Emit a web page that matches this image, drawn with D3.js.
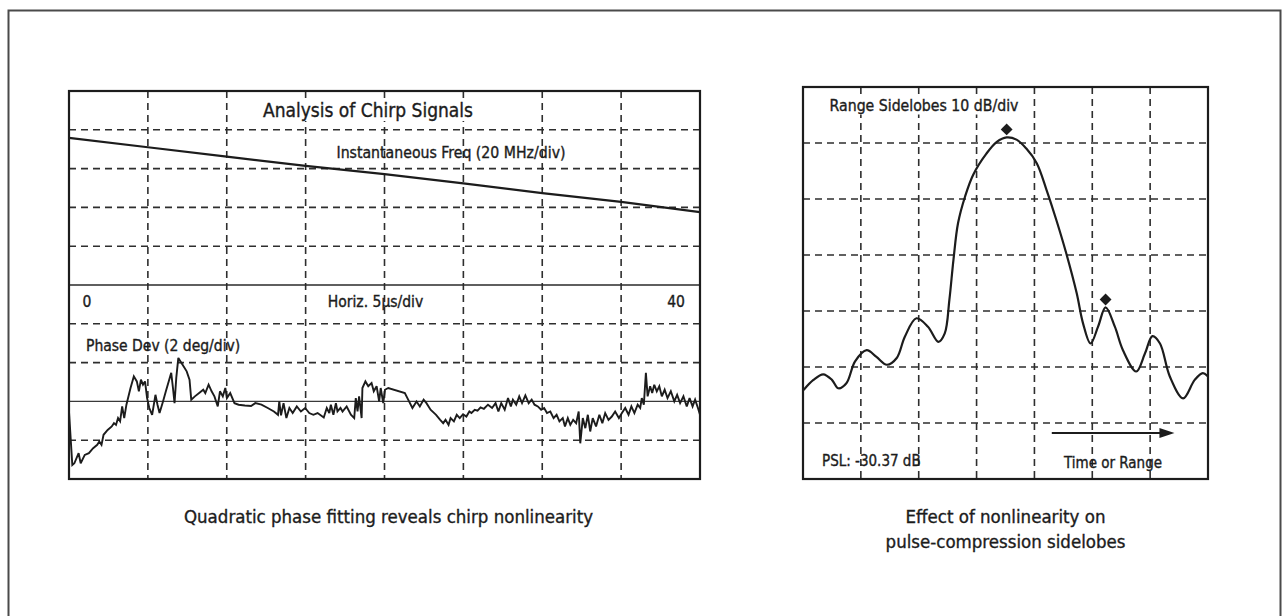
<!DOCTYPE html>
<html>
<head>
<meta charset="utf-8">
<script src="https://cdn.jsdelivr.net/npm/d3@7"></script>
<style>
  html, body { margin: 0; padding: 0; background: #ffffff; }
  svg { display: block; }
  text {
    font-family: "Liberation Sans Narrow", "Arial Narrow", "DejaVu Sans Condensed", "Roboto Condensed", sans-serif;
    font-stretch: condensed;
    fill: #1c1c1c;
    stroke: #1c1c1c;
    stroke-width: 0.35px;
  }
</style>
</head>
<body>
<svg id="chart" width="1288" height="616"></svg>
<script>
// ---- Chirp analysis: instantaneous frequency (MHz, relative) vs time (µs)
const freqTime = [0, 5, 10, 15, 20, 25, 30, 35, 40];
const freqMHz  = [75.8, 71.0, 66.2, 61.4, 57.2, 52.4, 47.4, 42.8, 37.6];

// ---- Phase deviation from quadratic fit (deg) vs time (µs)
const phaseTime = [0,0.21,0.34,0.61,0.74,1.00,1.26,1.53,1.79,1.92,2.06,2.19,2.45,2.71,2.85,2.98,3.11,3.24,3.37,3.50,
  3.64,3.90,4.11,4.30,4.43,4.56,4.69,4.82,4.95,5.09,5.27,5.48,5.61,5.74,5.96,6.14,6.32,6.48,6.59,6.69,
  6.80,6.93,7.19,7.46,7.64,7.75,7.98,8.25,8.51,8.64,8.85,9.04,9.22,9.43,9.57,9.75,9.91,10.01,10.22,10.49,
  10.75,11.15,11.54,11.81,12.20,12.60,12.99,13.25,13.33,13.44,13.60,13.78,13.97,14.18,14.44,14.70,14.97,15.23,15.49,15.76,
  16.15,16.34,16.50,16.60,16.76,16.92,17.02,17.21,17.34,17.60,17.87,18.08,18.18,18.29,18.39,18.55,18.60,18.79,18.97,19.18,
  19.32,19.50,19.66,19.76,19.92,20.03,20.24,21.29,21.50,21.77,22.03,22.24,22.48,22.66,22.92,23.27,23.53,23.72,23.87,24.06,
  24.19,24.40,24.58,24.77,24.98,25.19,25.38,25.51,25.72,25.90,26.09,26.30,26.56,26.82,27.04,27.22,27.40,27.62,27.83,28.01,
  28.14,28.35,28.54,28.72,28.93,29.14,29.33,29.51,29.72,29.93,30.12,30.30,30.51,30.72,30.91,31.09,31.30,31.44,31.62,31.78,
  31.96,32.15,32.31,32.41,32.57,32.73,32.89,33.04,33.20,33.41,33.62,33.81,33.99,34.20,34.41,34.62,34.86,35.05,35.26,35.47,
  35.65,35.84,36.05,36.21,36.31,36.44,36.57,36.68,36.84,36.97,37.10,37.26,37.42,37.58,37.76,37.94,38.15,38.37,38.55,38.74,
  38.95,39.16,39.34,39.53,39.69,39.87,40.00];
const phaseDev = [-0.52,-3.28,-3.19,-2.67,-3.19,-2.76,-2.67,-2.41,-2.24,-2.07,-2.24,-1.72,-1.47,-1.29,-1.12,-1.21,-0.86,-1.03,-0.26,-0.86,
  -0.17,0.69,1.29,1.03,0.52,1.12,0.86,1.03,0.17,-0.34,-0.69,0.34,-0.17,-0.60,0.00,0.52,1.03,1.47,0.69,-0.09,
  1.21,2.24,1.90,1.55,1.12,0.09,0.26,0.43,0.60,0.43,0.86,0.52,0.26,-0.26,0.52,0.26,0.69,0.17,0.43,-0.09,
  -0.17,-0.21,-0.24,-0.09,-0.17,-0.34,-0.52,-0.69,0.00,-0.72,-0.09,-0.86,-0.34,-0.60,-0.26,-0.52,-0.34,-0.60,-0.69,-0.60,
  -0.83,-0.34,-0.60,-0.17,-0.69,-0.09,-0.52,-0.34,-0.52,-0.26,-0.69,-0.86,0.17,-0.52,0.26,-0.86,0.69,1.03,0.78,0.95,
  0.52,0.78,0.00,0.69,-0.09,0.60,0.69,0.43,0.09,-0.34,0.00,-0.26,0.09,-0.09,-0.43,-0.69,-0.95,-1.12,-0.95,-1.21,
  -0.86,-1.03,-0.69,-0.86,-0.66,-0.78,-0.52,-0.60,-0.43,-0.48,-0.31,-0.38,-0.17,-0.34,-0.09,-0.52,-0.09,-0.43,0.17,-0.26,
  0.09,-0.17,0.26,-0.09,0.31,-0.09,0.09,-0.17,-0.26,-0.43,-0.34,-0.60,-0.52,-0.86,-0.69,-1.03,-0.86,-1.29,-0.86,-1.21,
  -0.95,-1.12,-0.52,-2.16,-0.86,-1.38,-0.69,-1.55,-0.86,-1.29,-0.69,-1.12,-0.60,-0.95,-0.78,-0.52,-0.86,-0.60,-0.34,-0.69,
  -0.26,-0.60,-0.17,-0.34,0.17,-0.17,1.47,0.26,0.78,0.43,0.86,0.52,0.78,0.26,0.60,0.17,0.52,0.00,0.34,-0.09,
  0.26,-0.26,0.17,-0.26,0.09,-0.34,-0.69];

// ---- Compressed pulse: level (dB) vs time/range (divisions)
const rangePos = [0.01,0.18,0.35,0.50,0.61,0.75,0.90,1.10,1.27,1.45,1.62,1.76,1.96,2.16,2.34,2.45,2.53,2.60,2.68,2.80,
  2.94,3.17,3.35,3.52,3.69,3.86,4.04,4.21,4.38,4.55,4.73,4.84,4.97,5.10,5.23,5.39,5.53,5.76,5.91,6.04,
  6.17,6.34,6.57,6.77,6.91,7.00];
const levelDb = [-44.1,-42.3,-41.3,-42.3,-43.8,-42.9,-39.0,-37.0,-38.2,-39.6,-38.4,-34.6,-31.3,-32.8,-35.5,-34.0,-28.0,-20.9,-14.3,-9.6,
  -5.7,-1.9,0.2,1.0,0.6,-1.0,-3.6,-8.4,-13.8,-19.7,-26.8,-32.2,-35.8,-32.8,-29.37,-32.8,-37.0,-40.8,-37.6,-34.5,
  -35.8,-41.7,-45.6,-42.3,-41.1,-41.7];
const pslDb = -30.37;

// ---- Grid divisions
const timeTicks  = [5, 10, 15, 20, 25, 30, 35];
const freqTicks  = [20, 40, 60, 80];
const phaseTicks = [-2, 2, 4];
const rangeTicks = [1, 2, 3, 4, 5, 6];
const dbTicks    = [-50, -40, -30, -20, -10, 0];

const svg = d3.select("#chart");
const INK = "#1c1c1c";
const GRID = "#2e2e2e";

// page frame
svg.append("rect")
  .attr("x", 8.5).attr("y", 10.5).attr("width", 1272).attr("height", 640)
  .attr("fill", "none").attr("stroke", "#4a4a4a").attr("stroke-width", 2);

// ================= Left panel =================
const L = { x0: 69, x1: 700, y0: 91, ym: 285, y1: 479 };
const xT = d3.scaleLinear().domain([0, 40]).range([L.x0, L.x1]);
const yF = d3.scaleLinear().domain([0, 100]).range([L.ym, L.y0]);
const yP = d3.scaleLinear().domain([-4, 6]).range([L.y1, L.ym]);

const left = svg.append("g");

function dashed(g, x1, y1, x2, y2) {
  g.append("line")
    .attr("x1", x1).attr("y1", y1).attr("x2", x2).attr("y2", y2)
    .attr("stroke", GRID).attr("stroke-width", 1.6)
    .attr("stroke-dasharray", "7,5");
}

timeTicks.forEach(t => dashed(left, xT(t), L.y0, xT(t), L.y1));
freqTicks.forEach(f => dashed(left, L.x0, yF(f), L.x1, yF(f)));
phaseTicks.forEach(p => dashed(left, L.x0, yP(p), L.x1, yP(p)));

// zero-phase reference and section divider
left.append("line")
  .attr("x1", L.x0).attr("x2", L.x1).attr("y1", yP(0)).attr("y2", yP(0))
  .attr("stroke", "#3a3a3a").attr("stroke-width", 1.1);
left.append("line")
  .attr("x1", L.x0).attr("x2", L.x1).attr("y1", L.ym).attr("y2", L.ym)
  .attr("stroke", "#2a2a2a").attr("stroke-width", 1.6);

// instantaneous frequency trace
left.append("path")
  .datum(d3.range(freqTime.length))
  .attr("fill", "none").attr("stroke", INK).attr("stroke-width", 2.2)
  .attr("d", d3.line().x(i => xT(freqTime[i])).y(i => yF(freqMHz[i])));

// phase deviation trace
const nPh = Math.min(phaseTime.length, phaseDev.length);
left.append("path")
  .datum(d3.range(nPh))
  .attr("fill", "none").attr("stroke", INK).attr("stroke-width", 1.9)
  .attr("stroke-linejoin", "miter").attr("stroke-miterlimit", 3)
  .attr("d", d3.line().x(i => xT(phaseTime[i])).y(i => yP(phaseDev[i])));

// panel border
left.append("rect")
  .attr("x", L.x0).attr("y", L.y0).attr("width", L.x1 - L.x0).attr("height", L.y1 - L.y0)
  .attr("fill", "none").attr("stroke", INK).attr("stroke-width", 2.2);

function labelWithBg(g, txt, x, y, size, anchor) {
  const t = g.append("text").attr("x", x).attr("y", y)
    .attr("text-anchor", anchor || "middle").attr("dominant-baseline", "central")
    .attr("font-size", size).text(txt);
  const b = t.node().getBBox();
  g.insert("rect", () => t.node())
    .attr("x", b.x - 3).attr("y", b.y).attr("width", b.width + 6).attr("height", b.height)
    .attr("fill", "#ffffff");
  return t;
}
function label(g, txt, x, y, size, anchor) {
  return g.append("text").attr("x", x).attr("y", y)
    .attr("text-anchor", anchor || "middle").attr("dominant-baseline", "central")
    .attr("font-size", size).text(txt);
}

labelWithBg(left, "Analysis of Chirp Signals", 368, 110, 19);
label(left, "Instantaneous Freq (20 MHz/div)", 451, 152, 15.7);
label(left, "0", xT(0) + 18, 302, 15.5);
label(left, "Horiz. 5µs/div", xT(20) - 9, 302, 15.5);
label(left, "40", xT(40) - 24, 302, 15.5);
label(left, "Phase Dev (2 deg/div)", 86, 346, 15.5, "start");

// ================= Right panel =================
const R = { x0: 803, x1: 1208, y0: 87, y1: 479 };
const xR = d3.scaleLinear().domain([0, 7]).range([R.x0, R.x1]);
const yR = d3.scaleLinear().domain([-60, 10]).range([R.y1, R.y0]);

const right = svg.append("g");
rangeTicks.forEach(r => dashed(right, xR(r), R.y0, xR(r), R.y1));
dbTicks.forEach(d => dashed(right, R.x0, yR(d), R.x1, yR(d)));

labelWithBg(right, "Range Sidelobes 10 dB/div", 924, 105, 15.7);

right.append("clipPath").attr("id", "rclip")
  .append("rect").attr("x", R.x0).attr("y", R.y0)
  .attr("width", R.x1 - R.x0).attr("height", R.y1 - R.y0);

right.append("path")
  .datum(d3.range(rangePos.length))
  .attr("clip-path", "url(#rclip)")
  .attr("fill", "none").attr("stroke", INK).attr("stroke-width", 2.2)
  .attr("d", d3.line().curve(d3.curveCatmullRom.alpha(0.5))
    .x(i => xR(rangePos[i])).y(i => yR(levelDb[i])));

// markers on the main lobe and on the peak sidelobe
const iMain = d3.maxIndex(levelDb);
const mainDb = levelDb[iMain];
const iSide = levelDb.findIndex(v => Math.abs(v - (mainDb + pslDb)) < 0.01);
const marks = [iMain, iSide].filter(i => i >= 0);
right.selectAll("path.mark").data(marks).join("path")
  .attr("class", "mark")
  .attr("d", d3.symbol(d3.symbolSquare, 70)())
  .attr("transform", i => `translate(${xR(rangePos[i])},${yR(levelDb[i]) - 8}) rotate(45)`)
  .attr("fill", INK);

// time / range arrow
const arrowY = yR(-51.8);
right.append("line")
  .attr("x1", xR(4.3)).attr("x2", xR(6.2)).attr("y1", arrowY).attr("y2", arrowY)
  .attr("stroke", INK).attr("stroke-width", 2);
right.append("path")
  .attr("d", `M${xR(6.42)},${arrowY} L${xR(6.42) - 15},${arrowY - 5} L${xR(6.42) - 15},${arrowY + 5} Z`)
  .attr("fill", INK);

label(right, `PSL: ${pslDb.toFixed(2)} dB`, 822, 461, 15, "start");
label(right, "Time or Range", 1113, 463, 15);

right.append("rect")
  .attr("x", R.x0).attr("y", R.y0).attr("width", R.x1 - R.x0).attr("height", R.y1 - R.y0)
  .attr("fill", "none").attr("stroke", INK).attr("stroke-width", 2.2);

// ================= Captions =================
label(svg, "Quadratic phase fitting reveals chirp nonlinearity", (L.x0 + L.x1) / 2 + 4, 516, 18.5);
label(svg, "Effect of nonlinearity on", (R.x0 + R.x1) / 2, 516, 18.5);
label(svg, "pulse-compression sidelobes", (R.x0 + R.x1) / 2, 541, 18.5);
</script>
</body>
</html>
